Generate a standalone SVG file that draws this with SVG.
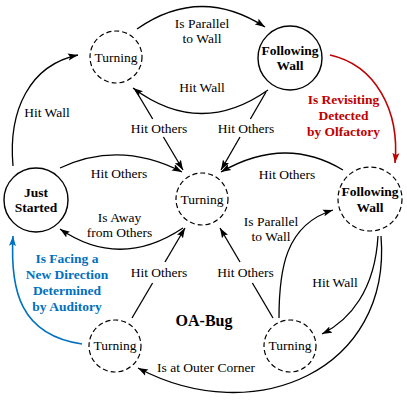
<svg xmlns="http://www.w3.org/2000/svg" width="407" height="400" viewBox="0 0 407 400" font-family="'Liberation Serif', 'Times New Roman', 'DejaVu Serif', serif">
<style>
.bg{fill:#fff}
.solid{fill:none;stroke:#000;stroke-width:1.4}
.dash{fill:none;stroke:#000;stroke-width:1.2;stroke-dasharray:5,3}
.c{fill:none;stroke:#000;stroke-width:1.3}
.red{fill:none;stroke:#c00000;stroke-width:1.6}
.blue{fill:none;stroke:#0070c0;stroke-width:1.6}
text{font-family:'Liberation Serif','Times New Roman','DejaVu Serif',serif;font-size:13.5px;text-anchor:middle;fill:#000}
.b{font-weight:bold}
.rt{fill:#c00000;font-weight:bold}
.bt{fill:#0070c0;font-weight:bold}
.title{font-weight:bold;font-size:16px}
</style>
<defs>
<marker id="ak" markerUnits="userSpaceOnUse" markerWidth="11" markerHeight="8" refX="10" refY="4" orient="auto"><path d="M0,0.5 L10,4 L0,7.5 L2,4 z" fill="#000"/></marker>
<marker id="ar" markerUnits="userSpaceOnUse" markerWidth="11" markerHeight="8" refX="10" refY="4" orient="auto"><path d="M0,0.5 L10,4 L0,7.5 L2,4 z" fill="#c00000"/></marker>
<marker id="ab" markerUnits="userSpaceOnUse" markerWidth="11" markerHeight="8" refX="10" refY="4" orient="auto"><path d="M0,0.5 L10,4 L0,7.5 L2,4 z" fill="#0070c0"/></marker>
</defs>
<rect class="bg" x="0" y="0" width="407" height="400"/>
<g id="connectors">
<path class="c" d="M137,29 Q200,-15 265,27" marker-end="url(#ak)"/>
<path class="c" d="M268,90 Q200,138 133,88" marker-end="url(#ak)"/>
<path class="c" d="M136,91 L152.7,119"/>
<path class="c" d="M163.4,137 L183,170" marker-end="url(#ak)"/>
<path class="c" d="M266,92 L250.4,119"/>
<path class="c" d="M240,137 L221,170" marker-end="url(#ak)"/>
<path class="c" d="M60,168 Q120,140 182,172" marker-end="url(#ak)"/>
<path class="c" d="M183,228 Q120,270 60,229" marker-end="url(#ak)"/>
<path class="c" d="M343,170 Q285,135 221,172" marker-end="url(#ak)"/>
<path class="c" d="M132,318 L152.6,283"/>
<path class="c" d="M165,262 L185,228" marker-end="url(#ak)"/>
<path class="c" d="M273,318 L252.4,283"/>
<path class="c" d="M240,262 L220,228" marker-end="url(#ak)"/>
<path class="c" d="M279,318 C279,270 285,225 333,210" marker-end="url(#ak)"/>
<path class="c" d="M378,236 C375,290 350,320 322,334" marker-end="url(#ak)"/>
<path class="c" d="M381,236 C392,370 255,430 138,368" marker-end="url(#ak)"/>
<path class="c" d="M13,166 C8,110 30,65 78,55" marker-end="url(#ak)"/>
<path class="red" d="M330,55 C375,65 400,110 395,163" marker-end="url(#ar)"/>
<path class="blue" d="M82,344 C20,335 10,290 13,236" marker-end="url(#ab)"/>
</g>
<g id="labels">
<text x="202" y="28">Is Parallel</text>
<text x="202" y="43">to Wall</text>
<text x="202" y="92">Hit Wall</text>
<text x="47" y="117">Hit Wall</text>
<text x="159" y="133">Hit Others</text>
<text x="246" y="133">Hit Others</text>
<text x="119" y="178">Hit Others</text>
<text x="287" y="179">Hit Others</text>
<text x="119.5" y="222">Is Away</text>
<text x="119.5" y="237">from Others</text>
<text x="271" y="226">Is Parallel</text>
<text x="271" y="241">to Wall</text>
<text x="335" y="287">Hit Wall</text>
<text x="159" y="277">Hit Others</text>
<text x="245.5" y="277">Hit Others</text>
<text class="title" x="204" y="326">OA-Bug</text>
<text x="206" y="372">Is at Outer Corner</text>
<text class="rt" x="343.5" y="104">Is Revisiting</text>
<text class="rt" x="343.5" y="120">Detected</text>
<text class="rt" x="343.5" y="136">by Olfactory</text>
<text class="bt" x="67" y="263">Is Facing a</text>
<text class="bt" x="67" y="279">New Direction</text>
<text class="bt" x="67" y="295">Determined</text>
<text class="bt" x="67" y="311">by Auditory</text>
</g>
<g id="turning-tl"><circle class="dash" cx="116" cy="57" r="26"/><text x="116" y="61.5">Turning</text></g>
<g id="following-wall-tr"><circle class="solid" cx="290" cy="58" r="32"/><text class="b" x="290" y="55">Following</text><text class="b" x="290" y="70">Wall</text></g>
<g id="just-started"><circle class="solid" cx="36" cy="200" r="32"/><text class="b" x="36" y="197">Just</text><text class="b" x="36" y="212">Started</text></g>
<g id="turning-center"><circle class="dash" cx="202" cy="199" r="26"/><text x="202" y="204">Turning</text></g>
<g id="following-wall-r"><circle class="dash" cx="370" cy="199" r="32"/><text class="b" x="370" y="196">Following</text><text class="b" x="370" y="212">Wall</text></g>
<g id="turning-bl"><circle class="dash" cx="115" cy="346" r="26"/><text x="115" y="350">Turning</text></g>
<g id="turning-br"><circle class="dash" cx="290" cy="346" r="26"/><text x="290" y="350">Turning</text></g>
</svg>
